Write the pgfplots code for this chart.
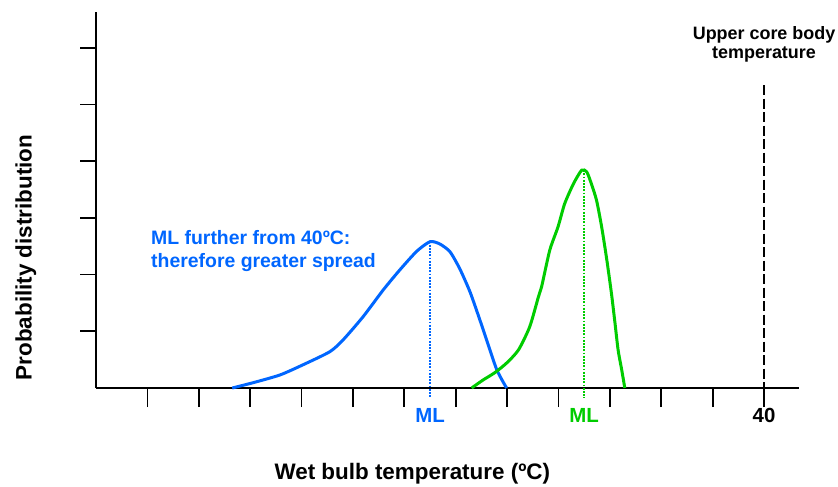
\documentclass[border=0pt]{standalone}
\usepackage{pgfplots}
\pgfplotsset{compat=1.18}
\usepackage{fontspec}
\setmainfont{Liberation Sans}
\definecolor{mlblue}{RGB}{0,102,255}
\definecolor{mlgreen}{RGB}{0,204,0}

\begin{document}
\begin{tikzpicture}
\path[use as bounding box] (0,0) rectangle (838bp,487bp);
\begin{axis}[
  scale only axis, width=703bp, height=376bp,
  at={(96bp,99bp)}, anchor=south west,
  xmin=27, xmax=40.68, ymin=0, ymax=6.63,
  axis lines=left, axis line style={-, line width=2.3bp},
  xtick={28,...,40}, xticklabels={},
  ytick={1,...,6}, yticklabels={},
  tick align=outside,
  major tick style={line width=1.7bp, black},
  xtick style={/pgfplots/major tick length=19bp},
  ytick style={/pgfplots/major tick length=16bp},
  clip=false,
  xlabel={Wet bulb temperature (ºC)},
  ylabel={Probability distribution},
  label style={font=\bfseries\fontsize{22.5}{26}\selectfont},
  xlabel style={at={(rel axis cs:0.45,-0.243)}, anchor=base},
  ylabel style={at={(rel axis cs:-0.0915,0.347)}, anchor=base, rotate=0},
]
% curve further from 40 C
\addplot[mlblue, line width=3bp, smooth, tension=0.4] coordinates {
 (29.65,0) (30.06,0.094) (30.58,0.23) (31.03,0.41) (31.55,0.64) (31.81,0.85)
 (32.20,1.26) (32.59,1.73) (32.91,2.08) (33.24,2.41) (33.50,2.58) (33.69,2.54)
 (33.89,2.40) (34.08,2.10) (34.28,1.69) (34.47,1.20) (34.60,0.85) (34.80,0.32)
 (34.99,0)};
% curve closer to 40 C
\addplot[mlgreen, line width=3bp, smooth, tension=0.4] coordinates {
 (34.31,0) (34.53,0.14) (34.76,0.27) (34.99,0.44) (35.22,0.67) (35.44,1.08)
 (35.61,1.61) (35.67,1.78) (35.83,2.43) (35.99,2.84) (36.12,3.25) (36.29,3.60)
 (36.45,3.84) (36.55,3.81) (36.64,3.60) (36.74,3.31) (36.84,2.84) (36.94,2.26)
 (37.03,1.67) (37.10,1.14) (37.16,0.67) (37.23,0.32) (37.29,0)};
% most likely values
\addplot[mlblue, line width=2.4bp, dash pattern=on 1.8bp off 1.4bp] coordinates {(33.5,2.58) (33.5,-0.18)};
\addplot[mlgreen, line width=2.4bp, dash pattern=on 1.8bp off 1.4bp] coordinates {(36.5,3.84) (36.5,-0.18)};
% upper core body temperature
\addplot[black, line width=2.7bp, dash pattern=on 10bp off 3.5bp] coordinates {(40,5.34) (40,-0.35)};

\node[font=\bfseries\fontsize{20.5}{24}\selectfont, text=mlblue, anchor=north, inner sep=0pt]
  at (axis cs:33.5,0) [yshift=-20bp] {ML};
\node[font=\bfseries\fontsize{20.5}{24}\selectfont, text=mlgreen, anchor=north, inner sep=0pt]
  at (axis cs:36.5,0) [yshift=-20bp] {ML};
\node[font=\bfseries\fontsize{20.5}{24}\selectfont, anchor=north, inner sep=0pt]
  at (axis cs:40,0) [yshift=-20bp] {40};
\node[font=\bfseries\fontsize{19.5}{23.3}\selectfont, text=mlblue, anchor=north west,
  inner sep=0pt, align=left] at (axis cs:28.07,2.787)
  {ML further from 40ºC:\\therefore greater spread};
\node[font=\bfseries\fontsize{18}{19}\selectfont, anchor=north, inner sep=0pt, align=center]
  at (axis cs:40,6.384) {Upper core body\\temperature};
\end{axis}
\end{tikzpicture}
\end{document}
